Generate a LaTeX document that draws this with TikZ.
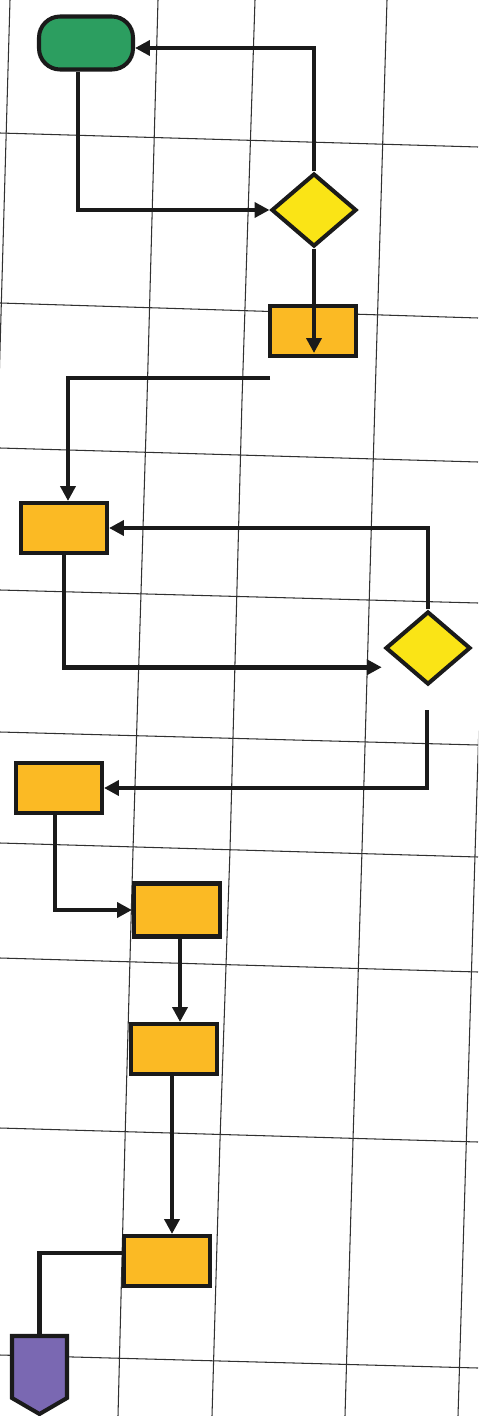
\documentclass[tikz,border=0pt]{standalone}
\usetikzlibrary{shapes.geometric,arrows.meta}
\definecolor{startgreen}{RGB}{44,158,96}
\definecolor{decyellow}{RGB}{250,228,22}
\definecolor{procorange}{RGB}{251,186,36}
\definecolor{endpurple}{RGB}{122,104,178}
\definecolor{ink}{RGB}{26,26,26}
\begin{document}
\begin{tikzpicture}[x=0.02cm,y=-0.02cm,
  gridline/.style={line width=0.6pt,draw=ink!90},
  procbox/.style={draw=ink,line width=2.3pt,fill=procorange,inner sep=0pt,
    minimum width=1.72cm,minimum height=1.0cm},
  decbox/.style={diamond,draw=ink,line width=2.3pt,fill=decyellow,inner sep=0pt,
    minimum width=1.7cm,minimum height=1.46cm},
  startbox/.style={rectangle,rounded corners=12pt,draw=ink,line width=2.3pt,fill=startgreen,
    inner sep=0pt,minimum width=1.88cm,minimum height=1.06cm},
  endbox/.style={draw=ink,line width=2.3pt,fill=endpurple,line join=miter},
  conn/.style={draw=ink,line width=2.8pt},
  flow/.style={conn,-{Triangle[length=8.5pt,width=8.5pt]}}
]
\useasboundingbox (0,0) rectangle (478,1416);
\fill[white] (0,0) rectangle (478,1416);
% grid
\begin{scope}
\clip (0,0) rectangle (478,1416);
\draw[gridline] (10,0) -- (-2,420);
\draw[gridline] (158,0) -- (147,400) -- (133,850) -- (125,1140) -- (118,1416);
\draw[gridline] (255,0) -- (242,400) -- (230,850) -- (220,1140) -- (212,1416);
\draw[gridline] (387,0) -- (375,400) -- (362,850) -- (353,1140) -- (345,1416);
\draw[gridline] (480,690) -- (458,1416);
\draw[gridline] (0,133) -- (478,147);
\draw[gridline] (0,303) -- (478,318);
\draw[gridline] (0,448) -- (478,462);
\draw[gridline] (0,590) -- (478,603);
\draw[gridline] (0,732) -- (478,745);
\draw[gridline] (0,843) -- (478,857);
\draw[gridline] (0,958) -- (478,972);
\draw[gridline] (0,1128) -- (478,1142);
\draw[gridline] (0,1355) -- (478,1368);
\end{scope}
% nodes
\node[startbox] (start) at (86,43) {};
\node[decbox] (d1) at (314,210) {};
\node[procbox] (A) at (313,331) {};
\node[procbox] (B) at (64,528) {};
\node[decbox] (d2) at (428,648) {};
\node[procbox] (C) at (59,788) {};
\node[procbox,minimum height=1.06cm] (D) at (177,910) {};
\node[procbox] (E) at (174,1049) {};
\node[procbox] (F) at (167,1261) {};
\draw[endbox] (12,1336) -- (67,1336) -- (67,1398) -- (39.5,1414) -- (12,1398) -- cycle;
\coordinate (endtop) at (39.5,1336);
\coordinate (atip) at (311,353);
\coordinate (f1) at (270,378);
\coordinate (f2) at (427,710);
% connectors
\draw[flow] ([xshift=-0.16cm]start.south) |- (d1.west);
\draw[flow] (d1.north) |- ([yshift=-0.1cm]start.east);
\draw[flow] (d1.south) -- (d1.south |- atip);
\draw[flow] (f1) -| ([xshift=0.08cm]B.north);
\draw[flow] (d2.north) |- (B.east);
\draw[flow,shorten >=0.48cm] (B.south) |- (d2.south west);
\draw[flow] (f2) |- (C.east);
\draw[flow] ([xshift=-0.08cm]C.south) |- (D.west);
\draw[flow] ([xshift=0.06cm]D.south) -- ([xshift=0.06cm]D.south |- E.north);
\draw[flow] ([xshift=-0.04cm]E.south) -- ([xshift=-0.04cm]E.south |- F.north);
\draw[conn] ([yshift=0.16cm]F.west) -| (endtop);
\end{tikzpicture}
\end{document}
